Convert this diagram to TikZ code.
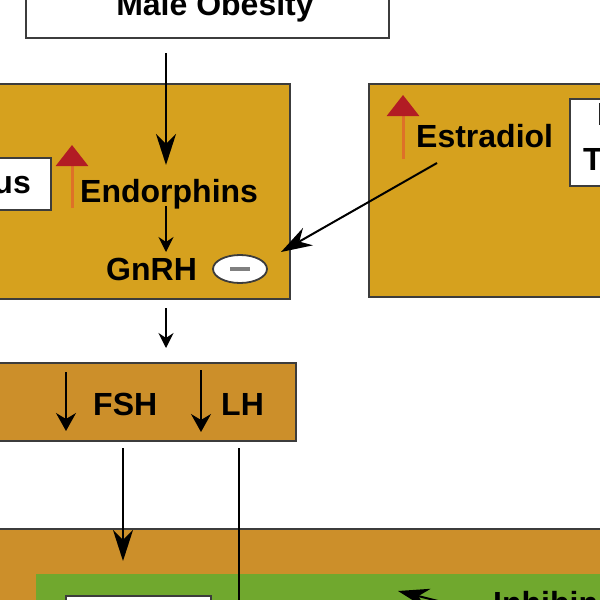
\documentclass[tikz,border=0pt]{standalone}
\usepackage{fontspec}
\setmainfont{Liberation Sans}
\usetikzlibrary{arrows.meta,shapes.geometric}

\definecolor{gold}{RGB}{214,161,30}
\definecolor{ochre}{RGB}{204,143,42}
\definecolor{leaf}{RGB}{112,168,46}
\definecolor{rim}{RGB}{60,60,60}
\definecolor{upred}{RGB}{178,28,36}
\definecolor{upshaft}{RGB}{222,112,40}

\begin{document}
\begin{tikzpicture}[x=1pt, y=-1pt,
    panel/.style={draw=rim, line width=2pt, inner sep=0pt, anchor=north west},
    label/.style={font=\fontsize{32}{38}\selectfont\bfseries, inner sep=0pt, anchor=base west},
    big/.style={line width=2pt, -{Stealth[length=31pt, width=20pt, inset=10pt]}},
    small/.style={line width=1.6pt, -{Stealth[length=15pt, width=15pt, inset=5pt]}},
    updown/.style={line width=2pt, -{Stealth[length=18pt, width=20pt, inset=6pt]}},
    rise/.style={upshaft, line width=3pt, -{Triangle[length=21pt, width=32pt, color=upred, fill=upred]}}]
    \useasboundingbox (0, 0) rectangle (600, 600);
    \clip (0, 0) rectangle (600, 600);

    % boxes
    \node[panel, fill=white, minimum width=363pt, minimum height=47pt] (obesitybox) at (25, -10) {};
    \node[panel, fill=gold, minimum width=299pt, minimum height=215pt] (hypobox) at (-10, 83) {};
    \node[panel, fill=white, minimum width=60pt, minimum height=52pt] (hypolabel) at (-10, 157) {};
    \node[panel, fill=gold, minimum width=250pt, minimum height=213pt] (adiposebox) at (368, 83) {};
    \node[panel, fill=white, minimum width=50pt, minimum height=87pt] (fatbox) at (569, 98) {};
    \node[panel, fill=ochre, minimum width=305pt, minimum height=78pt] (pitbox) at (-10, 362) {};
    \node[panel, fill=ochre, minimum width=630pt, minimum height=90pt] (testisbox) at (-10, 528) {};
    \node[panel, draw=none, fill=leaf, minimum width=580pt, minimum height=45pt] (leydigbox) at (35, 573) {};
    \node[panel, fill=white, minimum width=145pt, minimum height=30pt] (cellbox) at (65, 595) {};

    % texts
    \node[label, anchor=base] (obesity) at (215, 15) {Male Obesity};
    \node[label, anchor=base east] (hypo) at (31, 193) {Hypothalamus};
    \node[label] (endorphins) at (80, 202) {Endorphins};
    \node[label] (gnrh) at (106, 280) {GnRH};
    \node[ellipse, draw=rim, line width=1.8pt, fill=white, minimum width=54pt, minimum height=28pt] (minus) at (240, 269) {};
    \draw[gray, line width=3.5pt] (230, 269) -- (250, 269);
    \node[label] (estradiol) at (416, 147) {Estradiol};
    \node[label] (fat) at (597, 125) {Fat};
    \node[label] (tissue) at (583, 170) {Tissue};
    \node[label] (fsh) at (93, 415) {FSH};
    \node[label] (lh) at (221, 415) {LH};
    \node[label] (inhibin) at (493, 614) {Inhibin};

    % arrow ends
    \coordinate (o1) at (166, 53);
    \coordinate (o2) at (166, 165);
    \coordinate (e1) at (166, 206);
    \coordinate (e2) at (166, 252);
    \coordinate (s1) at (437, 163);
    \coordinate (s2) at (281, 252);
    \coordinate (h1) at (166, 308);
    \coordinate (h2) at (166, 348);
    \coordinate (f1) at (66, 372);
    \coordinate (f2) at (66, 431);
    \coordinate (l1) at (201, 370);
    \coordinate (l2) at (201, 432);
    \coordinate (p1) at (123, 448);
    \coordinate (p2) at (123, 561);
    \coordinate (q1) at (239, 448);
    \coordinate (q2) at (239, 620);
    \coordinate (i1) at (470, 609);
    \coordinate (i2) at (398, 591);
    \coordinate (r1) at (72, 208);
    \coordinate (r2) at (72, 145);
    \coordinate (t1) at (403, 159);
    \coordinate (t2) at (403, 95);

    \draw[big] (o1) -- (o2);
    \draw[small] (e1) -- (e2);
    \draw[big] (s1) -- (s2);
    \draw[small] (h1) -- (h2);
    \draw[updown] (f1) -- (f2);
    \draw[updown] (l1) -- (l2);
    \draw[big] (p1) -- (p2);
    \draw[line width=2pt] (q1) -- (q2);
    \draw[big] (i1) -- (i2);
    \draw[rise] (r1) -- (r2);
    \draw[rise] (t1) -- (t2);
\end{tikzpicture}
\end{document}
